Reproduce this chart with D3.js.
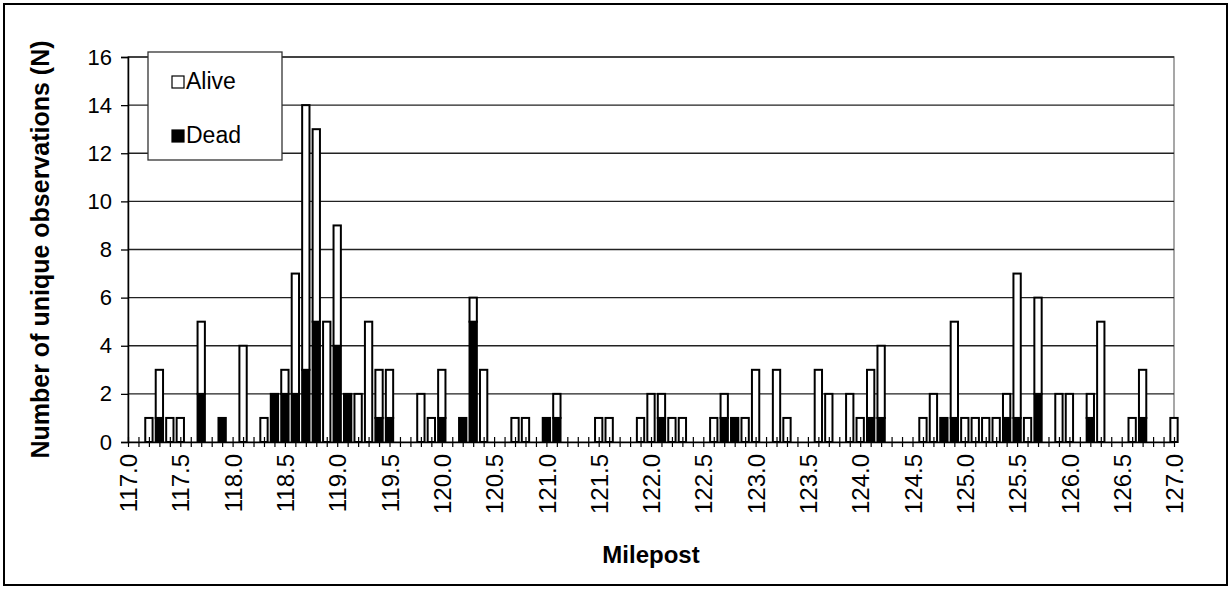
<!DOCTYPE html>
<html>
<head>
<meta charset="utf-8">
<script src="https://cdn.jsdelivr.net/npm/d3@7"></script>
<style>
    body { margin: 0; background: #fff; }
    svg { display: block; font-family: 'Liberation Sans', Arial, sans-serif; }
</style>
</head>
<body>
<div id="chart"></div>
<script>
'use strict';

// mileposts 117.0 ... 127.0, one category every 0.1 mile
const categories = d3.range(1170, 1271).map(d => (d / 10).toFixed(1));

// only mileposts that have observations
const obsMileposts = [
    '117.2', '117.3', '117.4', '117.5', '117.7', '117.9', '118.1', '118.3', '118.4', '118.5',
    '118.6', '118.7', '118.8', '118.9', '119.0', '119.1', '119.2', '119.3', '119.4', '119.5',
    '119.8', '119.9', '120.0', '120.2', '120.3', '120.4', '120.7', '120.8', '121.0', '121.1',
    '121.5', '121.6', '121.9', '122.0', '122.1', '122.2', '122.3', '122.6', '122.7', '122.8',
    '122.9', '123.0', '123.2', '123.3', '123.6', '123.7', '123.9', '124.0', '124.1', '124.2',
    '124.6', '124.7', '124.8', '124.9', '125.0', '125.1', '125.2', '125.3', '125.4', '125.5',
    '125.6', '125.7', '125.9', '126.0', '126.2', '126.3', '126.6', '126.7', '127.0'
];
const deadCounts = [
    0, 1, 0, 0, 2, 1, 0, 0, 2, 2,
    2, 3, 5, 0, 4, 2, 0, 0, 1, 1,
    0, 0, 1, 1, 5, 0, 0, 0, 1, 1,
    0, 0, 0, 0, 1, 0, 0, 0, 1, 1,
    0, 0, 0, 0, 0, 0, 0, 0, 1, 1,
    0, 0, 1, 1, 0, 0, 0, 0, 1, 1,
    0, 2, 0, 0, 1, 0, 0, 1, 0
];
const aliveCounts = [
    1, 2, 1, 1, 3, 0, 4, 1, 0, 1,
    5, 11, 8, 5, 5, 0, 2, 5, 2, 2,
    2, 1, 2, 0, 1, 3, 1, 1, 0, 1,
    1, 1, 1, 2, 1, 1, 1, 1, 1, 0,
    1, 3, 3, 1, 3, 2, 2, 1, 2, 3,
    1, 2, 0, 4, 1, 1, 1, 1, 1, 6,
    1, 4, 2, 2, 1, 5, 1, 2, 1
];

const yTicks = [0, 2, 4, 6, 8, 10, 12, 14, 16];
const seriesNames = ['Alive', 'Dead'];

const width = 1231, height = 589;
const plot = { left: 128, right: 1174, top: 57, bottom: 442 };

const svg = d3.select('#chart').append('svg')
    .attr('width', width)
    .attr('height', height);

svg.append('rect')
    .attr('x', 4).attr('y', 4)
    .attr('width', width - 8).attr('height', height - 8)
    .attr('fill', '#fff')
    .attr('stroke', '#000')
    .attr('stroke-width', 2);

const scaleX = d3.scalePoint()
    .domain(categories)
    .range([plot.left, plot.right]);

const scaleY = d3.scaleLinear()
    .domain([0, 16])
    .range([plot.bottom, plot.top]);

// plot area border + gridlines
svg.append('rect')
    .attr('x', plot.left).attr('y', plot.top)
    .attr('width', plot.right - plot.left).attr('height', plot.bottom - plot.top)
    .attr('fill', 'none')
    .attr('stroke', '#8a8a8a')
    .attr('stroke-width', 1.5);

svg.append('g')
    .selectAll('line')
    .data(yTicks.filter(d => d > 0))
    .join('line')
    .attr('x1', plot.left).attr('x2', plot.right)
    .attr('y1', d => scaleY(d)).attr('y2', d => scaleY(d))
    .attr('stroke', '#222')
    .attr('stroke-width', 1.4);

// stacked bars: dead at the bottom, alive on top
let rows = obsMileposts.map((m, i) => ({ milepost: m, Dead: deadCounts[i], Alive: aliveCounts[i] }));
let stacked = d3.stack().keys(['Dead', 'Alive'])(rows);

const barWidth = scaleX.step() * 0.7;
const fills = { Dead: '#000', Alive: '#fff' };

svg.append('g')
    .selectAll('g')
    .data(stacked)
    .join('g')
    .attr('fill', d => fills[d.key])
    .selectAll('rect')
    .data(d => d.filter(s => s[1] > s[0]))
    .join('rect')
    .attr('x', d => scaleX(d.data.milepost) - barWidth / 2)
    .attr('y', d => scaleY(d[1]))
    .attr('width', barWidth)
    .attr('height', d => scaleY(d[0]) - scaleY(d[1]))
    .attr('stroke', '#000')
    .attr('stroke-width', 2);

// y axis
const yAxis = d3.axisLeft(scaleY)
    .tickValues(yTicks)
    .tickSize(7)
    .tickPadding(9);

const axisYGroup = svg.append('g')
    .attr('transform', `translate(${plot.left},0)`)
    .call(yAxis);
axisYGroup.select('.domain').attr('stroke', '#000').attr('stroke-width', 1.5);
axisYGroup.selectAll('.tick line').attr('stroke', '#000').attr('stroke-width', 1.3);
axisYGroup.selectAll('.tick text')
    .attr('fill', '#000')
    .style('font-size', '22px')
    .style('font-family', "'Liberation Sans', Arial, sans-serif");

// x axis: cross ticks at every milepost, labels every 0.5
const xAxis = d3.axisBottom(scaleX)
    .tickValues(categories)
    .tickSizeInner(5)
    .tickSizeOuter(0)
    .tickFormat((d, i) => i % 5 === 0 ? d : '');

const axisXGroup = svg.append('g')
    .attr('transform', `translate(0,${plot.bottom})`)
    .call(xAxis);
axisXGroup.select('.domain').attr('stroke', '#000').attr('stroke-width', 1.5);
axisXGroup.selectAll('.tick line')
    .attr('y1', -5)
    .attr('stroke', '#000')
    .attr('stroke-width', 1.2);
axisXGroup.selectAll('.tick text')
    .attr('fill', '#000')
    .attr('transform', 'rotate(-90)')
    .attr('text-anchor', 'end')
    .attr('x', -12)
    .attr('y', 0)
    .attr('dy', '0.36em')
    .style('font-size', '24px')
    .style('font-family', "'Liberation Sans', Arial, sans-serif");

// axis titles
svg.append('text')
    .attr('transform', `translate(40,${(plot.top + plot.bottom) / 2}) rotate(-90)`)
    .attr('text-anchor', 'middle')
    .attr('dy', '0.35em')
    .style('font-size', '25px')
    .style('font-weight', 'bold')
    .text('Number of unique observations (N)');

svg.append('text')
    .attr('x', (plot.left + plot.right) / 2)
    .attr('y', 563)
    .attr('text-anchor', 'middle')
    .style('font-size', '24px')
    .style('font-weight', 'bold')
    .text('Milepost');

// legend
const legend = svg.append('g').attr('transform', 'translate(148,52)');
legend.append('rect')
    .attr('width', 134).attr('height', 108)
    .attr('fill', '#fff')
    .attr('stroke', '#333')
    .attr('stroke-width', 1.3);

seriesNames.forEach((name, i) => {
    let item = legend.append('g').attr('transform', `translate(24,${24 + i * 54})`);
    item.append('rect')
        .attr('width', 12).attr('height', 12)
        .attr('fill', fills[name])
        .attr('stroke', '#000')
        .attr('stroke-width', 1.2);
    item.append('text')
        .attr('x', 14)
        .attr('y', 13)
        .style('font-size', '23px')
        .text(name);
});
</script>
</body>
</html>
